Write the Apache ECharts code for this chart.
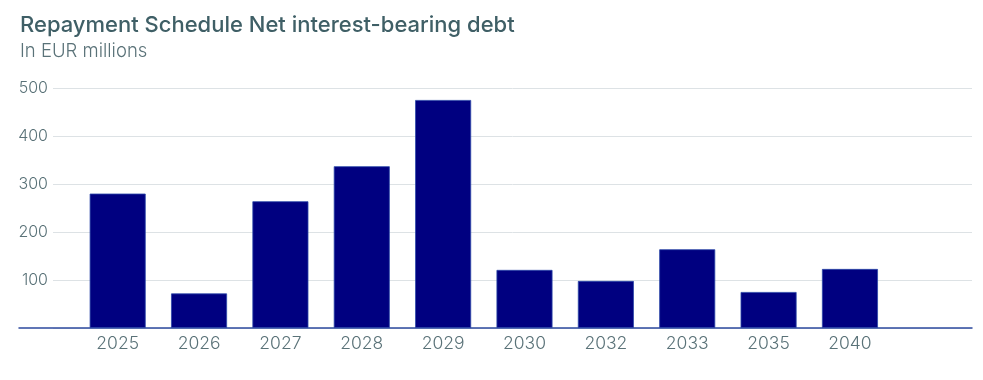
<!DOCTYPE html>
<html><head><meta charset="utf-8">
<script src="https://cdn.jsdelivr.net/npm/echarts@6/dist/echarts.min.js"></script>
<style>html,body{margin:0;padding:0;background:#fff}#c{width:983px;height:380px}</style>
</head><body><div id="c"></div>
<script>
const categories = ['2025','2026','2027','2028','2029','2030','2032','2033','2035','2040',''];
const values = [280, 72, 264, 337, 475, 121, 98, 164, 75, 123];
const yTicks = {min: 0, max: 500, interval: 100};

const chart = echarts.init(document.getElementById('c'));
const font = 'Inter';
const gTop = 88, gBottom = 52;
chart.setOption({
  animation: false,
  textStyle: {fontFamily: font},
  title: [
    {text: 'Repayment Schedule Net interest-bearing debt', left: 15, top: 9,
     textStyle: {fontFamily: font, fontSize: 22, fontWeight: 500, color: '#3f5f66'}},
    {text: 'In EUR millions', left: 15, top: 37,
     textStyle: {fontFamily: font, fontSize: 18.5, fontWeight: 300, color: '#5a7278'}}
  ],
  grid: [
    {left: 77, right: 11, top: gTop, bottom: gBottom},
    {left: 53, right: 11, top: gTop, bottom: gBottom},
    {left: 19, right: 11, top: gTop, bottom: gBottom}
  ],
  xAxis: [
    {type: 'category', gridIndex: 0, data: categories,
     axisLine: {show: false}, axisTick: {show: false},
     axisLabel: {color: '#5a7278', fontSize: 17.5, fontWeight: 300, margin: 7, fontFamily: font}},
    {type: 'value', gridIndex: 1, show: false, min: 0, max: 1},
    {type: 'value', gridIndex: 2, min: 0, max: 1, splitLine: {show: false},
     axisLabel: {show: false}, axisTick: {show: false},
     axisLine: {show: true, lineStyle: {color: '#2d4a9e', width: 1.5}}}
  ],
  yAxis: [
    {type: 'value', gridIndex: 0, show: false, min: yTicks.min, max: yTicks.max, interval: yTicks.interval},
    {type: 'value', gridIndex: 1, min: yTicks.min, max: yTicks.max, interval: yTicks.interval,
     axisLine: {show: false}, axisTick: {show: false},
     axisLabel: {color: '#5a7278', fontSize: 16, fontWeight: 300, margin: 5, fontFamily: font,
       formatter: v => v === 0 ? '' : String(v)},
     splitLine: {lineStyle: {color: '#dde2e5', width: 1}}},
    {type: 'value', gridIndex: 2, show: false, min: yTicks.min, max: yTicks.max}
  ],
  series: [
    {type: 'bar', xAxisIndex: 0, yAxisIndex: 0, data: values, barWidth: 56,
     itemStyle: {color: '#000080', borderColor: '#2b46a8', borderWidth: 0.8}, z: 5}
  ]
});
</script></body></html>
